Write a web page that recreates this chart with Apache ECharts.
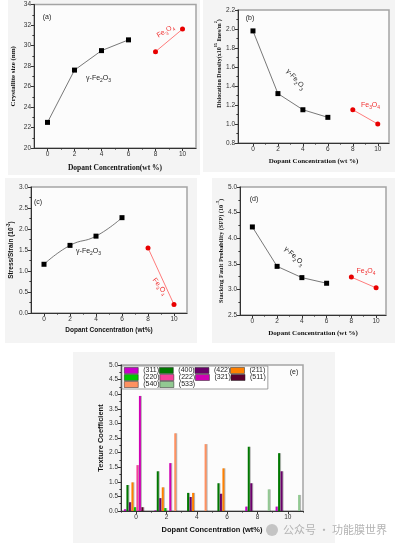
<!DOCTYPE html>
<html><head><meta charset="utf-8">
<script src="https://cdn.jsdelivr.net/npm/echarts@6/dist/echarts.min.js"></script>
<style>
html,body{margin:0;padding:0;background:#fff}
#wrap{position:relative;width:395px;height:543px;overflow:hidden}
.pb{position:absolute;background:#f4f4f4}
#c{position:absolute;left:0;top:0;width:395px;height:543px}
</style>
</head><body><div id="wrap">
<div class="pb" style="left:8px;top:0;width:192px;height:175px"></div>
<div class="pb" style="left:203px;top:0;width:192px;height:172px"></div>
<div class="pb" style="left:5px;top:178px;width:192px;height:165px"></div>
<div class="pb" style="left:212px;top:178px;width:183px;height:165px"></div>
<div class="pb" style="left:73px;top:352px;width:262px;height:191px"></div>
<div id="c"></div></div>
<script>
// ---------- data ----------
const dopantGamma = [0, 2, 4, 6];
const dopantFe3O4 = [8, 10];
const sizeGamma = [22.5, 27.6, 29.5, 30.55];
const sizeFe3O4 = [29.4, 31.6];
const disGamma = [1.98, 1.32, 1.15, 1.07];
const disFe3O4 = [1.15, 1.0];
const strainGamma = [1.16, 1.61, 1.83, 2.27];
const strainFe3O4 = [1.55, 0.2];
const sfpGamma = [4.22, 3.45, 3.23, 3.12];
const sfpFe3O4 = [3.24, 3.03];

const xMajorTicks = [0, 2, 4, 6, 8, 10];
const xMinorTicks = [1, 3, 5, 7, 9];

const texCategories = ['0', '2', '4', '6', '8', '10'];
const planes = ['(311)', '(400)', '(422)', '(211)', '(220)', '(222)', '(321)', '(511)', '(540)', '(533)'];
const tc311 = [0.06, 0.02, null, null, 0.15, 0.15];
const tc400 = [0.89, 1.36, 0.62, 0.95, 2.2, 1.98];
const tc422 = [0.30, 0.44, 0.48, 0.59, 0.95, 1.36];
const tc211 = [0.98, 0.81, 0.62, 1.46, null, null];
const tc220 = [0.13, 0.10, null, null, null, null];
const tc222 = [1.57, null, null, null, null, null];
const tc321 = [3.94, 1.64, null, null, null, null];
const tc511 = [0.13, null, null, null, null, null];
const tc540 = [null, 2.66, 2.29, null, null, null];
const tc533 = [null, null, null, null, 0.74, 0.55];
const planeColors = ['#c800c8', '#007800', '#6a006a', '#ff8000', '#00c400', '#f5409a', '#d000b4', '#5c002e', '#ff9160', '#92c992'];

// ---------- helpers ----------
const SANS = 'Liberation Sans', SERIF = 'Liberation Serif';
const AX = '#333';
function nameStyle(fam, size) {
  return {fontFamily: fam, fontWeight: 'bold', fontSize: size, color: '#111',
    rich: {
      n: {fontFamily: fam, fontWeight: 'bold', fontSize: size, color: '#111', padding: [2, 0, 0, 0], verticalAlign: 'bottom'},
      p: {fontFamily: fam, fontWeight: 'bold', fontSize: size * 0.7, color: '#111', verticalAlign: 'top'}
    }};
}
function xAxes(grid, min, max, name, fam, size, gap) {
  return [
    {type: 'value', gridIndex: grid, position: 'bottom', min: min, max: max,
      axisLine: {show: true, onZero: false, lineStyle: {color: AX, width: 1}},
      axisTick: {show: true, length: 3, customValues: xMajorTicks, lineStyle: {color: AX}},
      axisLabel: {customValues: xMajorTicks, fontSize: 6.5, color: '#333', margin: 3, fontFamily: SANS},
      splitLine: {show: false},
      name: name, nameLocation: 'middle', nameGap: gap, nameTextStyle: nameStyle(fam, size)},
    {type: 'value', gridIndex: grid, position: 'bottom', min: min, max: max,
      axisLine: {show: false}, axisLabel: {show: false}, splitLine: {show: false},
      axisTick: {show: true, length: 1.6, customValues: xMinorTicks, lineStyle: {color: AX}}}
  ];
}
function yAxis(grid, min, max, interval, name, fam, size, gap, digits, pad) {
  return {type: 'value', gridIndex: grid, position: 'left', min: min, max: max, interval: interval,
    axisLine: {show: true, onZero: false, lineStyle: {color: AX, width: 1}},
    axisTick: {show: true, length: 3, lineStyle: {color: AX}},
    minorTick: {show: true, splitNumber: 2, length: 1.6, lineStyle: {color: AX}},
    axisLabel: {fontSize: 6.5, color: '#333', margin: 3, fontFamily: SANS,
      formatter: v => v.toFixed(digits)},
    splitLine: {show: false}, minorSplitLine: {show: false},
    name: name, nameLocation: 'middle', nameGap: gap,
    nameTextStyle: Object.assign(nameStyle(fam, size), pad ? {padding: pad} : {})};
}
function pts(xs, ys) { return xs.map((x, i) => [x, ys[i]]); }
function gammaSeries(idx, ys, smooth) {
  return {type: 'line', xAxisIndex: idx * 2, yAxisIndex: idx, data: pts(dopantGamma, ys),
    symbol: 'rect', symbolSize: 5, smooth: !!smooth, itemStyle: {color: '#000'},
    lineStyle: {color: '#555', width: 0.8}, z: 3};
}
function feSeries(idx, ys) {
  return {type: 'line', xAxisIndex: idx * 2, yAxisIndex: idx, data: pts(dopantFe3O4, ys),
    symbol: 'circle', symbolSize: 5, itemStyle: {color: '#e80000'},
    lineStyle: {color: '#ff5a5a', width: 0.8}, z: 3};
}
function gridBox(left, top, width, height) {
  return {left: left, top: top, width: width, height: height, show: true,
    backgroundColor: '#fcfcfc', borderColor: '#a4a4a4', borderWidth: 1.5,
    containLabel: false, outerBoundsMode: 'none'};
}
function richText(col, size) {
  const s = size || 7;
  return {
    n: {fontSize: s, fontFamily: SANS, fill: col, color: col, verticalAlign: 'top'},
    s: {fontSize: s * 0.7, fontFamily: SANS, fill: col, color: col, verticalAlign: 'bottom', padding: [4, 0, 0, 0]}
  };
}
function ann(x, y, text, col, rot, size) {
  return {type: 'text', x: x, y: y, rotation: rot || 0, z: 50,
    style: {text: text, fill: col, fontSize: size || 7, fontFamily: SANS,
      align: 'center', verticalAlign: 'middle', rich: richText(col, size)}};
}
const GAMMA = '{n|γ-Fe}{s|2}{n|O}{s|3}';
const FE3O4 = '{n|Fe}{s|3}{n|O}{s|4}';

// ---------- bar series ----------
const tcData = [tc311, tc400, tc422, tc211, tc220, tc222, tc321, tc511, tc540, tc533];
const barSeries = planes.map((p, i) => ({
  type: 'bar', name: p, xAxisIndex: 8, yAxisIndex: 4, data: tcData[i],
  barWidth: 2, barGap: '25%',
  itemStyle: {color: planeColors[i], shadowColor: 'rgba(0,0,0,0.28)', shadowOffsetX: 1, shadowOffsetY: 0, shadowBlur: 0}
}));

const option = {
  animation: false,
  grid: [
    gridBox(34, 4.5, 162, 143.5),
    gridBox(238, 10, 151, 133),
    gridBox(31, 187, 156, 126),
    gridBox(240, 187, 146, 128),
    gridBox(121, 365, 182, 146)
  ],
  xAxis: [].concat(
    xAxes(0, -1, 11, 'Dopant Concentration(wt %)', SERIF, 7.5, 16),
    xAxes(1, -1.2, 10.9, 'Dopant Concentration (wt %)', SERIF, 7, 14.5),
    xAxes(2, -1, 11, 'Dopant Concentration (wt%)', SANS, 6.5, 13.5),
    xAxes(3, -1, 10.8, 'Dopant Concentration (wt %)', SERIF, 7, 14.5),
    [
      {type: 'category', gridIndex: 4, position: 'bottom', data: texCategories, boundaryGap: true,
        axisLine: {show: true, onZero: false, lineStyle: {color: AX, width: 1}},
        axisTick: {show: true, alignWithLabel: true, interval: 0, length: 3, lineStyle: {color: AX}},
        axisLabel: {fontSize: 6.5, color: '#333', margin: 3, fontFamily: SANS, interval: 0},
        name: 'Dopant Concentration (wt%)', nameLocation: 'middle', nameGap: 15,
        nameTextStyle: nameStyle(SANS, 7.5)},
      {type: 'category', gridIndex: 4, position: 'bottom', data: texCategories, boundaryGap: true,
        axisLine: {show: false}, axisLabel: {show: false},
        axisTick: {show: true, interval: 0, length: 1.6, lineStyle: {color: AX}}}
    ]
  ),
  yAxis: [
    yAxis(0, 20, 34, 2, 'Crystallite size (nm)', SERIF, 7, 17.5, 0),
    yAxis(1, 0.8, 2.2, 0.2, '{n|Dislocation Density(x10}{p|15}{n| lines/m}{p|2}{n|)}', SERIF, 6, 12, 1, [0, 0, 0, 26]),
    yAxis(2, 0, 3, 0.5, '{n|Stress/Strain (10}{p|-3}{n|)}', SANS, 6.5, 12, 1),
    yAxis(3, 2.5, 5, 0.5, '{n|Stacking Fault Probability (SFP) (10}{p|-3}{n|)}', SERIF, 6.3, 10, 1),
    yAxis(4, 0, 5, 0.5, 'Texture Coefficient', SANS, 7.5, 15, 1)
  ],
  legend: {
    data: planes, left: 122, top: 366, orient: 'horizontal', width: 150,
    itemWidth: 14, itemHeight: 6, itemGap: 0, padding: [1, 2, 1, 2],
    borderColor: '#888', borderWidth: 0.8, backgroundColor: '#fff',
    icon: 'rect', itemStyle: {borderColor: '#222', borderWidth: 0.5},
    textStyle: {fontSize: 7, color: '#222', fontFamily: SANS}
  },
  series: [
    gammaSeries(0, sizeGamma), feSeries(0, sizeFe3O4),
    gammaSeries(1, disGamma), feSeries(1, disFe3O4),
    gammaSeries(2, strainGamma, true), feSeries(2, strainFe3O4),
    gammaSeries(3, sfpGamma), feSeries(3, sfpFe3O4)
  ].concat(barSeries),
  graphic: [
    ann(47, 17, '(a)', '#222'),
    ann(98.5, 79, GAMMA, '#222'),
    ann(166, 32, FE3O4, '#f03030', 0.56),
    ann(250, 18, '(b)', '#222'),
    ann(295, 80, GAMMA, '#222', -0.84),
    ann(370.5, 106, FE3O4, '#f03030'),
    ann(38, 202, '(c)', '#222'),
    ann(88.5, 252, GAMMA, '#222'),
    ann(159, 287, FE3O4, '#f03030', -0.9),
    ann(254, 199, '(d)', '#222'),
    ann(293.5, 257, GAMMA, '#222', -0.75),
    ann(366, 272, FE3O4, '#f03030'),
    ann(294, 372, '(e)', '#222'),
    {type: 'circle', shape: {cx: 272, cy: 530, r: 6}, style: {fill: '#c4c4c4'}, z: 50},
    {type: 'text', x: 283, y: 530, z: 50, style: {text: '公众号 · 功能膜世界', fill: '#b4b4b4', fontSize: 11,
      fontFamily: 'Noto Sans CJK SC', verticalAlign: 'middle', align: 'left'}}
  ]
};
const chart = echarts.init(document.getElementById('c'));
chart.setOption(option);
</script>
</body></html>
